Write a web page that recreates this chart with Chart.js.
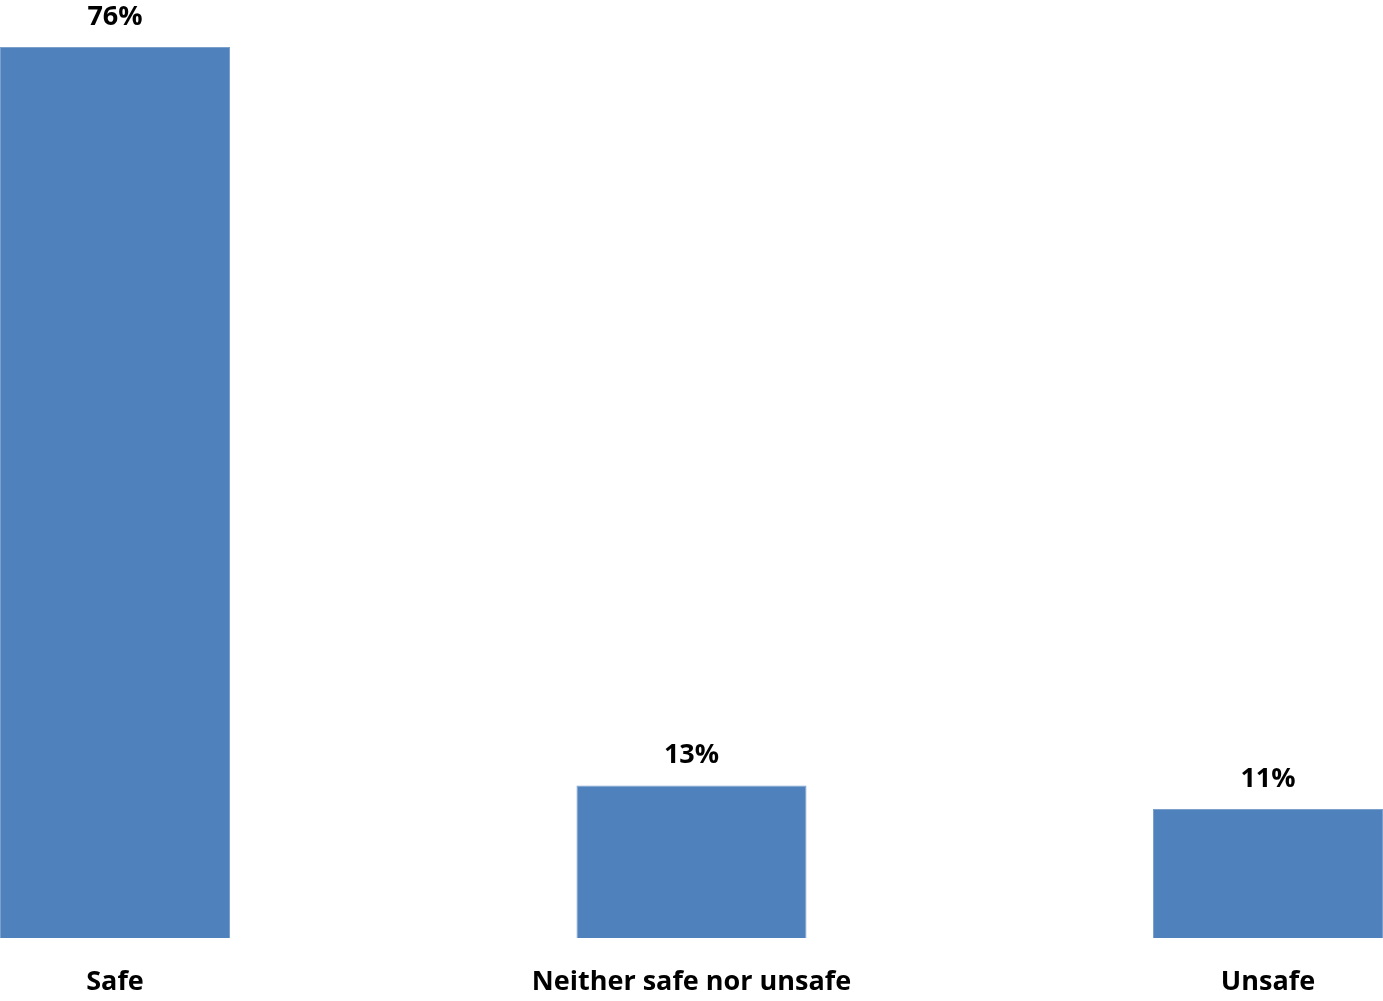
<!DOCTYPE html>
<html>
<head>
<meta charset="utf-8">
<script src="https://cdn.jsdelivr.net/npm/chart.js@4"></script>
<style>
  html, body { margin: 0; padding: 0; background: #fff; overflow: hidden; }
  #wrap { width: 1383px; height: 1001px; }
</style>
</head>
<body>
<div id="wrap"><canvas id="safetyBar"></canvas></div>
<script>
const categories = ["Safe", "Neither safe nor unsafe", "Unsafe"];
const percentValues = [76, 13, 11];

// draws the "76%" style labels above each bar
const valueLabels = {
  id: 'valueLabels',
  afterDatasetsDraw(chart) {
    const ctx = chart.ctx;
    const meta = chart.getDatasetMeta(0);
    ctx.save();
    ctx.font = "bold 27px 'Open Sans'";
    ctx.fillStyle = "#000";
    ctx.textAlign = "center";
    ctx.textBaseline = "middle";
    meta.data.forEach((bar, i) => {
      ctx.fillText(percentValues[i] + "%", bar.x, bar.y - 30);
    });
    ctx.restore();
  }
};

new Chart(document.getElementById("safetyBar"), {
  type: 'bar',
  data: {
    datasets: [{
      data: percentValues.map((v, i) => ({ x: i, y: v })),
      backgroundColor: "#4F81BD",
      borderColor: "#7BA0CC",
      borderWidth: 1,
      categoryPercentage: 1,
      barPercentage: 0.399
    }]
  },
  options: {
    responsive: true,
    maintainAspectRatio: false,
    animation: false,
    layout: { padding: 0 },
    plugins: {
      legend: { display: false },
      tooltip: { enabled: false }
    },
    scales: {
      x: {
        type: 'linear',
        offset: false,
        min: -0.1995,
        max: 2.1995,
        grid: { display: false, drawTicks: false, offset: false },
        border: { display: false },
        afterFit: (scale) => { scale.height = 63; },
        ticks: {
          stepSize: 1,
          includeBounds: false,
          autoSkip: false,
          maxRotation: 0,
          padding: 23,
          color: "#000",
          font: { family: "'Open Sans'", size: 27, weight: 'bold', lineHeight: '42px' },
          callback: (value) => categories[value] ?? ''
        }
      },
      y: {
        display: false,
        min: 0,
        max: 80
      }
    }
  },
  plugins: [valueLabels]
});
</script>
</body>
</html>
